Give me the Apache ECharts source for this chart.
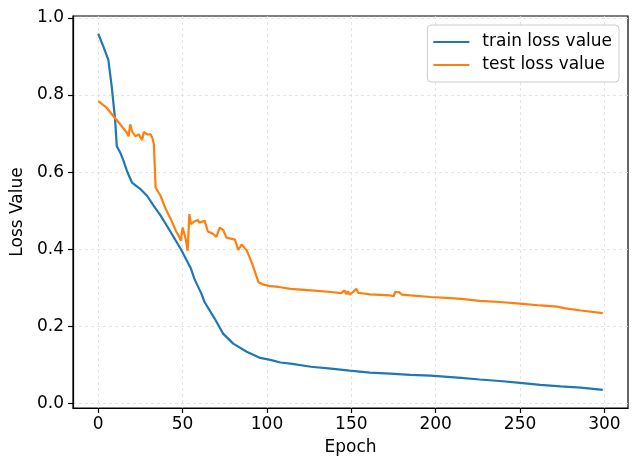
<!DOCTYPE html>
<html>
<head>
<meta charset="utf-8">
<script src="https://cdn.jsdelivr.net/npm/echarts@6/dist/echarts.min.js"></script>
<style>html,body{margin:0;padding:0;background:#fff;}#c{width:635px;height:461px;}</style>
</head>
<body>
<div id="c"></div>
<script>
const trainEpochs = [0, 3, 6, 8, 10, 11, 13, 15, 17, 20, 25, 29, 33, 37, 43, 49, 55, 57, 61, 63, 69, 74, 80, 88, 96, 102, 108, 114, 126, 138, 149, 161, 173, 185, 197, 209, 215, 226, 238, 250, 262, 274, 286, 299];
const trainLoss   = [0.959, 0.926, 0.891, 0.822, 0.736, 0.667, 0.651, 0.629, 0.603, 0.573, 0.556, 0.538, 0.512, 0.487, 0.444, 0.400, 0.349, 0.323, 0.286, 0.263, 0.220, 0.181, 0.155, 0.134, 0.118, 0.113, 0.106, 0.103, 0.095, 0.090, 0.085, 0.080, 0.077, 0.074, 0.072, 0.068, 0.066, 0.062, 0.058, 0.053, 0.048, 0.044, 0.041, 0.035];

const testEpochs = [0, 5, 9, 13, 17, 18, 19, 20, 21, 22, 24, 25, 26, 27, 29, 31, 32, 33, 34, 37, 40, 43, 46, 48, 49, 50, 51, 52, 53, 54, 55, 57, 59, 60, 61, 63, 65, 68, 70, 72, 74, 76, 81, 83, 85, 88, 91, 93, 95, 98, 102, 107, 114, 126, 138, 144, 146, 147, 148, 149, 151, 153, 154, 161, 173, 175, 176, 178, 180, 185, 197, 209, 215, 226, 238, 250, 262, 272, 276, 286, 299];
const testLoss   = [0.784, 0.767, 0.745, 0.724, 0.702, 0.693, 0.724, 0.706, 0.711, 0.693, 0.698, 0.702, 0.683, 0.704, 0.698, 0.698, 0.690, 0.672, 0.560, 0.538, 0.504, 0.478, 0.448, 0.432, 0.422, 0.456, 0.440, 0.423, 0.396, 0.491, 0.465, 0.472, 0.476, 0.469, 0.468, 0.474, 0.446, 0.440, 0.432, 0.456, 0.450, 0.430, 0.425, 0.398, 0.412, 0.397, 0.365, 0.340, 0.314, 0.308, 0.304, 0.302, 0.297, 0.293, 0.289, 0.286, 0.293, 0.283, 0.291, 0.282, 0.289, 0.297, 0.287, 0.283, 0.280, 0.278, 0.289, 0.289, 0.282, 0.280, 0.276, 0.273, 0.271, 0.266, 0.263, 0.259, 0.254, 0.251, 0.247, 0.241, 0.234];

const xTicks = [0, 50, 100, 150, 200, 250, 300];
const yTicks = [0.0, 0.2, 0.4, 0.6, 0.8, 1.0];
const seriesNames = ['train loss value', 'test loss value'];
const xTitle = 'Epoch';
const yTitle = 'Loss Value';

const pair = (xs, ys) => xs.map((x, i) => [x, ys[i]]);
const font = 'DejaVu Sans';

const chart = echarts.init(document.getElementById('c'), null, {renderer: 'canvas'});
chart.setOption({
  animation: false,
  backgroundColor: '#fff',
  grid: {left: 73, top: 16, right: 7, bottom: 52, show: true, borderColor: '#000', borderWidth: 1.2, backgroundColor: 'transparent'},
  legend: {
    orient: 'vertical', right: 16, top: 25,
    backgroundColor: '#fff', borderColor: '#cccccc', borderWidth: 1, borderRadius: 4,
    padding: [8, 7, 8, 6],
    icon: 'rect',
    itemWidth: 36, itemHeight: 2, itemGap: 5,
    textStyle: {fontFamily: font, fontSize: 17, color: '#000', padding: [0, 0, 0, 8], lineHeight: 18},
    data: seriesNames
  },
  xAxis: {
    type: 'value', min: -14.95, max: 313.95,
    name: xTitle, nameLocation: 'middle', nameGap: 31,
    nameTextStyle: {fontFamily: font, fontSize: 17, color: '#000'},
    axisLine: {show: true, onZero: false, lineStyle: {color: '#000', width: 1.2}},
    axisTick: {show: true, inside: false, length: 5, lineStyle: {color: '#000', width: 1.2}, customValues: xTicks},
    axisLabel: {fontFamily: font, fontSize: 17, color: '#000', margin: 8, customValues: xTicks},
    splitLine: {show: true, lineStyle: {color: '#dddddd', width: 0.8, type: [3, 3]}}
  },
  yAxis: {
    type: 'value', min: -0.012, max: 1.005,
    name: yTitle, nameLocation: 'middle', nameGap: 40, nameRotate: 90,
    nameTextStyle: {fontFamily: font, fontSize: 17, color: '#000'},
    axisLine: {show: true, onZero: false, lineStyle: {color: '#000', width: 1.2}},
    axisTick: {show: true, inside: false, length: 5, lineStyle: {color: '#000', width: 1.2}, customValues: yTicks},
    axisLabel: {fontFamily: font, fontSize: 17, color: '#000', margin: 9, customValues: yTicks, formatter: v => v.toFixed(1)},
    splitLine: {show: true, lineStyle: {color: '#dddddd', width: 0.8, type: [3, 3]}}
  },
  series: [
    {name: seriesNames[0], type: 'line', data: pair(trainEpochs, trainLoss), symbol: 'none', lineStyle: {color: '#1f77b4', width: 2.2}, itemStyle: {color: '#1f77b4'}},
    {name: seriesNames[1], type: 'line', data: pair(testEpochs, testLoss), symbol: 'none', lineStyle: {color: '#ff7f0e', width: 2.2}, itemStyle: {color: '#ff7f0e'}}
  ]
});
</script>
</body>
</html>
